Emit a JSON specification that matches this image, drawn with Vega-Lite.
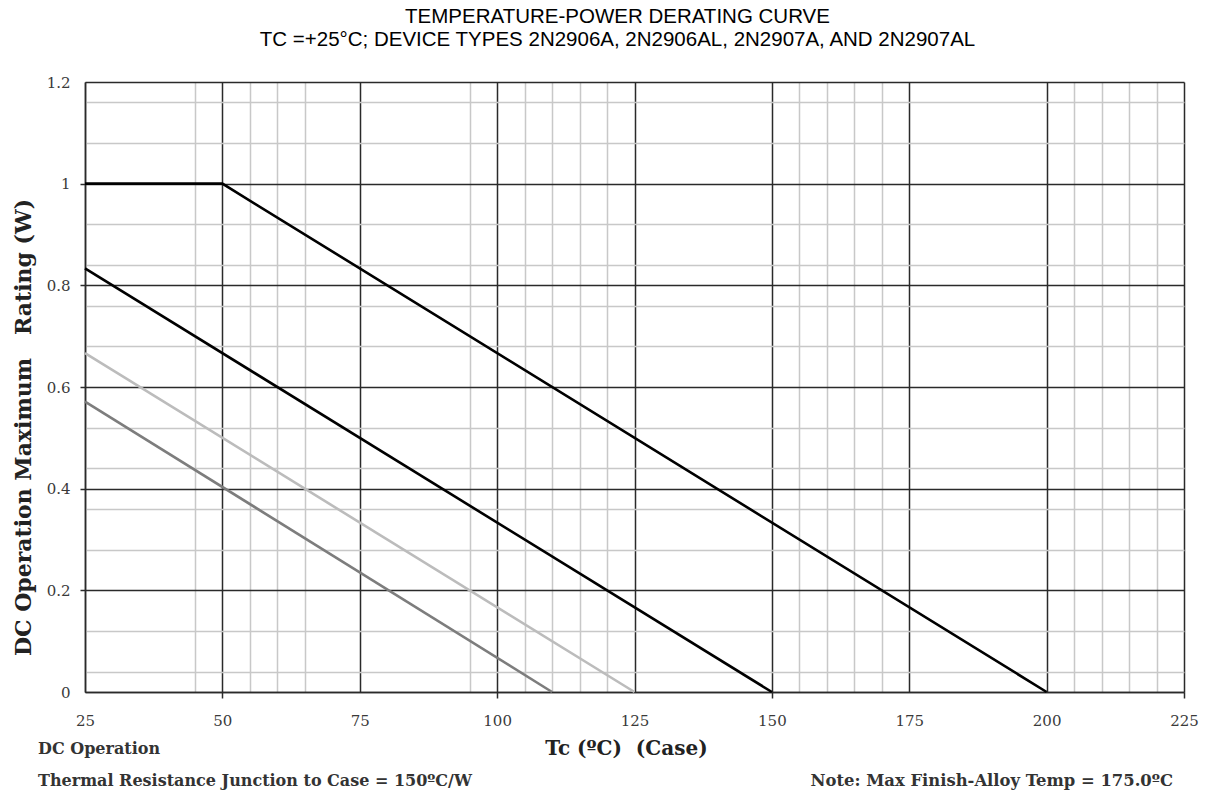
{
  "$schema": "https://vega.github.io/schema/vega-lite/v6.json",
  "width": 1099,
  "height": 610,
  "autosize": {"type": "none"},
  "padding": {"left": 85, "top": 82, "right": 24, "bottom": 101},
  "background": "white",
  "config": {"view": {"stroke": null}},
  "title": {
    "text": ["TEMPERATURE-POWER DERATING CURVE", "TC =+25°C; DEVICE TYPES 2N2906A, 2N2906AL, 2N2907A, AND 2N2907AL"],
    "font": "Liberation Sans",
    "fontSize": 20.5,
    "fontWeight": "normal",
    "color": "#000000",
    "anchor": "middle",
    "frame": "group",
    "dx": -17,
    "offset": 25,
    "lineHeight": 23
  },
  "datasets": {
    "curves": [
      {"series": "A", "tc": 25, "p": 1.0},
      {"series": "A", "tc": 50, "p": 1.0},
      {"series": "A", "tc": 200, "p": 0.0},
      {"series": "B", "tc": 25, "p": 0.8333},
      {"series": "B", "tc": 150, "p": 0.0},
      {"series": "C", "tc": 25, "p": 0.6667},
      {"series": "C", "tc": 125, "p": 0.0},
      {"series": "D", "tc": 25, "p": 0.5714},
      {"series": "D", "tc": 110, "p": 0.0}
    ]
  },
  "layer": [
    {
      "data": {"name": "curves"},
      "mark": {"type": "point", "opacity": 0},
      "encoding": {
        "x": {
          "field": "tc", "type": "quantitative",
          "scale": {"domain": [25, 225], "nice": false, "zero": false},
          "axis": {
            "orient": "bottom",
            "values": [45, 55, 60, 65, 95, 105, 110, 115, 120, 155, 160, 165, 170, 205, 210, 215, 220],
            "grid": true, "gridColor": "#c8c8c8", "gridWidth": 1.5,
            "labels": false, "ticks": false, "domain": false, "title": null
          }
        },
        "y": {
          "field": "p", "type": "quantitative",
          "scale": {"domain": [0, 1.2], "nice": false, "zero": true},
          "axis": {
            "orient": "left",
            "values": [0.04, 0.12, 0.28, 0.36, 0.44, 0.52, 0.68, 0.76, 0.84, 0.92, 1.08, 1.16],
            "grid": true, "gridColor": "#c8c8c8", "gridWidth": 1.5,
            "labels": false, "ticks": false, "domain": false, "title": null
          }
        }
      }
    },
    {
      "data": {"name": "curves"},
      "mark": {"type": "line", "strokeWidth": 2.6},
      "encoding": {
        "x": {
          "field": "tc", "type": "quantitative",
          "scale": {"domain": [25, 225], "nice": false, "zero": false},
          "axis": {
            "orient": "bottom",
            "values": [25, 50, 75, 100, 125, 150, 175, 200, 225],
            "grid": true, "gridColor": "#2a2a2a", "gridWidth": 1.5,
            "domain": true, "domainColor": "#2a2a2a", "domainWidth": 1.5,
            "tickColor": "#2a2a2a", "tickWidth": 1.5, "tickSize": 6,
            "tickOpacity": {"condition": {"test": "datum.value == 50 || datum.value == 100 || datum.value == 150 || datum.value == 225", "value": 1}, "value": 0},
            "labelFont": "DejaVu Serif", "labelFontSize": 15, "labelColor": "#3a3a3a",
            "labelPadding": 15, "labelFlush": false, "labelOverlap": false,
            "title": "Tc (ºC)\u00a0\u00a0(Case)",
            "titleFont": "DejaVu Serif", "titleFontSize": 20, "titleFontWeight": "bold", "titleColor": "#222222",
            "titleX": 541, "titleY": 56, "titleBaseline": "middle"
          }
        },
        "y": {
          "field": "p", "type": "quantitative",
          "scale": {"domain": [0, 1.2], "nice": false, "zero": true},
          "axis": {
            "orient": "left",
            "values": [0, 0.2, 0.4, 0.6, 0.8, 1.0, 1.2],
            "labelExpr": "'' + round(datum.value * 10) / 10",
            "grid": true, "gridColor": "#2a2a2a", "gridWidth": 1.5,
            "domain": true, "domainColor": "#2a2a2a", "domainWidth": 1.5,
            "tickColor": "#2a2a2a", "tickWidth": 1.5, "tickSize": 5,
            "tickOpacity": {"condition": {"test": "datum.value > 0.1 && datum.value < 1.1", "value": 1}, "value": 0},
            "labelFont": "DejaVu Serif", "labelFontSize": 15, "labelColor": "#3a3a3a",
            "labelPadding": 10, "labelFlush": false, "labelOverlap": false,
            "title": "DC Operation Maximum\u00a0\u00a0 Rating (W)",
            "titleFont": "DejaVu Serif", "titleFontSize": 22, "titleFontWeight": "bold", "titleColor": "#222222",
            "titleX": -62, "titleY": 345, "titleBaseline": "middle", "titleAngle": -90
          }
        },
        "color": {
          "field": "series", "type": "nominal",
          "scale": {"domain": ["A", "B", "C", "D"], "range": ["#000000", "#000000", "#bcbcbc", "#7d7d7d"]},
          "legend": null
        }
      }
    },
    {
      "data": {"values": [{"note": "DC Operation"}]},
      "mark": {"type": "text", "align": "left", "baseline": "alphabetic", "font": "DejaVu Serif", "fontSize": 16, "fontWeight": "bold", "color": "#333333"},
      "encoding": {
        "x": {"datum": 16.45, "type": "quantitative", "axis": null},
        "y": {"datum": -0.122, "type": "quantitative", "axis": null},
        "text": {"field": "note"}
      }
    },
    {
      "data": {"values": [{"note": "Thermal Resistance Junction to Case = 150ºC/W"}]},
      "mark": {"type": "text", "align": "left", "baseline": "alphabetic", "font": "DejaVu Serif", "fontSize": 16, "fontWeight": "bold", "color": "#333333"},
      "encoding": {
        "x": {"datum": 16.45, "type": "quantitative", "axis": null},
        "y": {"datum": -0.185, "type": "quantitative", "axis": null},
        "text": {"field": "note"}
      }
    },
    {
      "data": {"values": [{"note": "Note: Max Finish-Alloy Temp = 175.0ºC"}]},
      "mark": {"type": "text", "align": "right", "baseline": "alphabetic", "font": "DejaVu Serif", "fontSize": 16.4, "fontWeight": "bold", "color": "#333333"},
      "encoding": {
        "x": {"datum": 223.0, "type": "quantitative", "axis": null},
        "y": {"datum": -0.185, "type": "quantitative", "axis": null},
        "text": {"field": "note"}
      }
    }
  ],
  "resolve": {"axis": {"x": "independent", "y": "independent"}}
}
